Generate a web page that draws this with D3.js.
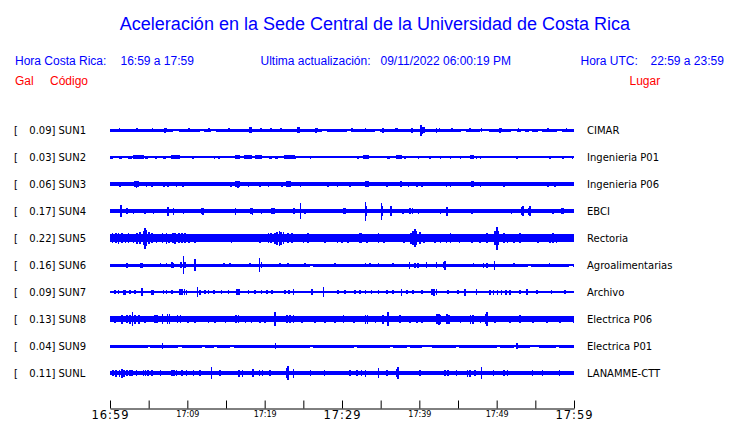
<!DOCTYPE html>
<html>
<head>
<meta charset="utf-8">
<script src="https://cdn.jsdelivr.net/npm/d3@7"></script>
<style>
  html, body { margin: 0; padding: 0; background: #fff; }
  svg { display: block; }
</style>
</head>
<body>
<div id="chart"></div>
<script>
// ---------------- DATA ----------------
const title = "Aceleración en la Sede Central de la Universidad de Costa Rica";
const horaCR = "16:59 a 17:59";
const horaUTC = "22:59 a 23:59";
const actualizacion = "09/11/2022 06:00:19 PM";

const codes = ["SUN1","SUN2","SUN3","SUN4","SUN5","SUN6","SUN7","SUN8","SUN9","SUNL"];
const peaks = ["0.09","0.03","0.06","0.17","0.22","0.16","0.09","0.13","0.04","0.11"];
const places = ["CIMAR","Ingenieria P01","Ingenieria P06","EBCI","Rectoria","Agroalimentarias","Archivo","Electrica P06","Electrica P01","LANAMME-CTT"];

// background noise amplitude of each trace (same units as the events)
const baseAmp = [1.5, 0.6, 1.7, 1.7, 3.9, 1.5, 1.4, 2.8, 1.5, 1.7];

// quiet stretches [startMinute, endMinute] where the trace falls to a thin line
const quietSUN1 = [[8.2,8.9],[11.6,12.2],[13.1,13.7],[27.4,28.1],[30.6,31.2],[34.3,34.9],[45.4,46.0],[47.8,49.0],[51.9,52.6],[53.2,53.6],[54.2,54.6],[55.4,55.8],[57.8,58.4]];
const quietSUN6 = [[25.9,26.3],[54.1,54.5],[59.4,59.9]];
const quietSUN9 = [[4.9,5.2],[8.8,9.3],[11.9,12.3],[13.4,13.8],[15.5,16.0],[25.8,26.2],[31.6,31.9],[36.2,36.6],[38.4,38.8],[40.3,41.6],[44.8,45.1],[50.0,50.4],[52.2,52.6],[54.3,55.5],[57.7,58.0]];

// events: [minute after 16:59, peak amplitude, optional duration in minutes]
const evSUN1 = [[1.2,2.2],[3.5,2],[5.5,2.2],[7.1,2.5],[7.3,2.2],[10.2,2],[12.8,2],[15.4,2.2],[18.0,3.3],[18.2,2.8],[19.5,2],[20.8,2.2],[22.1,2],[24.3,3.3],[24.5,2.6],[26.6,2.5],[26.8,2.2],[31.3,2],[33.0,2],[35.3,2.5],[36.9,2.2],[37.1,2.2],[39.0,2.5],[40.2,5.5],[40.4,3.5],[40.6,2.8],[42.2,2.5],[42.6,2.2],[44.2,2],[46.5,2],[48.0,2],[50.4,2.5],[50.6,2.2],[52.8,2],[56.6,2],[59.0,2]];
const evSUN2 = [[0.1,1.5,0.4],[1.3,1.5,0.4],[2.4,1.5,0.5],[3.0,1.6,1.5],[4.6,1.5,0.4],[5.9,1.5,0.3],[7.0,1.5,0.3],[8.0,1.6,1.2],[10.7,1.5,0.3],[13.5,1.5,0.2],[14.1,1.5,0.2],[16.3,1.7,0.6],[17.4,1.6,1.0],[18.9,1.6,0.8],[20.6,1.5,0.5],[21.4,1.5,0.4],[22.6,1.6,1.4],[23.9,1.5,0.2],[25.9,1.5,0.2],[32.0,1.5,0.3],[32.8,2.0,0.8],[35.9,1.5,0.2],[36.1,1.5,0.2],[37.1,2.0,0.8],[38.1,1.5,0.2],[39.9,1.5,0.2],[41.4,1.5,0.2],[42.7,1.5,0.2],[44.0,1.5,0.2],[45.3,1.5,0.2],[46.6,2.0,0.6],[47.4,1.5,0.2],[47.9,1.5,0.2],[52.6,1.5,0.2],[56.9,1.5,0.2],[58.6,1.5,0.2],[59.8,1.5,0.2]];
const evSUN3 = [[1.3,2.5],[3.2,3],[3.4,3.5],[3.6,3],[4.7,2.5],[5.4,2.5],[7.0,2.5],[7.5,2.5],[8.6,2.5],[9.4,2.5],[15.6,2.5],[16.3,3],[16.5,3.5],[16.7,3],[17.9,2.5],[19.4,2.5],[20.5,2.5],[22.2,2.5],[22.9,2.8],[23.1,2.8],[23.3,2.6],[24.6,2.5],[28.2,2.5],[29.4,2.5],[31.0,2.5],[33.0,3.2],[33.2,3.3],[33.4,3],[35.8,2.5],[37.6,3],[37.7,3],[38.6,2.5],[39.7,2.5],[40.3,2.5],[43.5,2.5],[44.0,2.5],[46.8,3],[47.0,3],[47.9,2.5],[50.9,2.5],[56.6,2.5],[57.5,2.5]];
const evSUN4 = [[1.42,5.8],[2.15,3],[3.0,2.5],[4.5,2.5],[5.6,2.5],[7.5,4.5],[8.2,3.5],[9.5,2.5],[11.8,3.2],[12.0,3.5],[16.2,3.5],[18.2,3.2],[18.4,3.5],[19.6,2.5],[20.9,3],[21.2,3],[23.8,3],[24.6,7.8],[25.2,2.5],[30.2,3],[30.4,2.8],[33.0,9.5],[33.1,5],[35.1,8.5],[35.2,5],[36.3,5],[37.9,2.5],[38.8,3],[39.1,3],[39.9,2.5],[42.7,2.5],[43.6,4.5],[46.8,2.5],[51.9,2.5],[53.3,4],[53.4,5],[54.2,3.5],[54.3,5],[57.3,2.5],[58.4,3],[58.6,3]];
const evSUN5 = [[0.3,5],[0.8,5],[1.1,5.5],[1.5,5],[2.0,4.5],[2.4,5],[3.0,4.5],[3.5,5.5],[3.9,6],[4.3,7],[4.5,10.5],[4.7,8],[5.0,6],[5.4,5],[6.0,4.5],[6.8,5],[7.3,5.5],[7.6,4.5],[8.1,5],[8.4,5.5],[8.9,5],[9.3,4.8],[9.7,5],[10.2,4.5],[11.0,4.5],[12.0,4.2],[13.2,4.2],[14.3,4.2],[15.7,4.5],[16.7,4.2],[17.7,4.2],[18.5,4.2],[19.4,4.5],[19.9,4.2],[20.5,5],[20.8,5],[21.3,5.5],[21.6,6.5],[21.9,7.5],[22.1,6.5],[22.4,6],[23.0,5],[23.5,4.8],[24.3,4.3],[25.0,4.5],[25.6,4.8],[26.3,4.3],[27.0,4.2],[27.8,4.5],[28.6,4.2],[29.4,4.5],[30.0,4.5],[30.8,4.5],[31.5,4.3],[32.3,5],[32.5,5],[33.2,4.5],[33.9,4.3],[34.7,5],[35.4,4.5],[36.3,4.2],[37.0,4.2],[38.0,4.5],[38.9,5.5],[39.2,7],[39.4,9],[39.6,7],[40.1,6],[40.6,4.5],[41.3,4.2],[42.0,4.5],[42.7,4.5],[43.5,4.5],[44.0,4.8],[44.5,4.3],[45.2,4.5],[46.0,4.2],[46.8,4.5],[47.8,4.5],[48.3,4.2],[48.7,4.8],[49.8,7],[50.0,11.5],[50.2,7],[50.9,5],[51.4,4.5],[52.2,4.5],[53.0,4.8],[53.6,4.3],[54.5,4.2],[55.3,4.5],[56.1,4.2],[56.9,4.5],[57.3,4.8],[57.7,4.5],[58.5,4.2],[59.3,4.2]];
const evSUN6 = [[2.15,2.5],[4.0,2.5],[4.2,2.5],[6.5,2.2],[7.3,2.2],[8.0,3],[8.2,2.5],[9.2,3],[9.5,9],[9.7,3],[11.0,6],[14.7,2.2],[15.5,2.2],[18.1,2.2],[19.3,7],[19.6,3],[22.0,2.2],[23.0,2.2],[25.2,2.2],[29.1,2.2],[33.0,2.2],[33.6,2.2],[34.7,2.2],[36.6,2.2],[38.7,3.5],[39.4,2.5],[39.8,2.5],[40.9,3],[42.2,3],[43.2,3],[43.3,4.5],[47.0,2.2],[48.3,2.5],[48.7,2.5],[49.7,4.5],[52.2,2.2],[56.8,2.2]];
const evSUN7 = [[0.65,2.3],[1.1,2.3],[1.8,2.5],[2.0,2.5],[2.6,2.3],[3.2,2.3],[4.1,4],[5.4,2.5],[5.6,2.5],[6.9,2.3],[7.3,2.3],[8.0,2.3],[9.0,2.8],[9.3,3],[9.6,2.8],[9.9,2.5],[11.3,5],[11.6,2.5],[12.3,2.3],[12.7,2.3],[13.4,2.3],[14.4,2.3],[15.3,2.3],[16.4,3],[16.7,3],[17.9,2.3],[18.7,2.3],[19.6,2.3],[20.3,2.3],[20.9,2.3],[22.6,2.3],[23.1,2.3],[23.7,3],[26.1,3],[27.6,5.3],[29.5,2.3],[30.4,2.3],[31.7,2.3],[32.3,2.3],[33.0,2.3],[33.8,2.3],[34.7,2.3],[35.8,2.3],[36.6,2.3],[37.7,3.5],[38.4,2.3],[39.2,2.3],[40.3,2.3],[41.6,3.2],[41.9,3.5],[42.2,3.2],[43.7,2.3],[45.0,2.3],[45.9,3.5],[47.4,3],[49.1,2.5],[49.6,2.5],[50.1,2.5],[50.6,2.5],[51.2,2.5],[51.7,2.5],[53.0,2.3],[53.9,3],[55.2,2.3],[57.1,2.3],[58.8,2.3]];
const evSUN8 = [[0.65,3.5],[1.5,4.5],[2.2,4.2],[2.6,4.5],[2.9,7],[3.2,4.5],[3.7,4.5],[4.5,3.5],[5.8,4],[6.1,4],[6.8,5],[7.4,5],[7.7,5],[8.7,4],[9.1,4],[10.1,3.5],[11.0,3.5],[12.7,3.5],[13.6,3.5],[14.9,3.5],[16.3,4],[16.6,4],[17.5,3.5],[18.3,3.5],[19.4,3.5],[20.0,3.5],[21.3,7],[22.9,3.8],[23.3,3.8],[23.7,3.8],[24.8,3.5],[26.5,3.5],[27.8,3.5],[29.1,3.5],[30.2,4],[31.5,3.5],[33.0,4.5],[33.3,4.5],[34.3,3.5],[35.3,4.5],[35.9,7],[37.5,4],[38.8,3.5],[39.7,3.5],[40.3,3.5],[42.3,5],[42.5,5.5],[42.7,4.5],[43.6,5],[43.8,4.5],[45.3,3.5],[46.6,4.5],[46.9,4.5],[47.9,3.5],[48.6,5],[48.7,7],[49.8,3.5],[51.7,3.5],[53.0,4],[54.7,3.5],[56.5,3.5],[58.2,3.5],[59.9,3.5]];
const evSUN9 = [[6.8,2.7],[21.4,2.7],[52.6,2.7]];
const evSUNL = [[0.4,3],[0.8,3.5],[1.2,3.5],[1.5,4.5],[1.8,3.5],[2.2,3],[2.6,3],[2.8,3],[3.4,3],[4.3,3],[4.6,3],[4.9,3],[5.4,2.8],[6.5,2.8],[8.0,3],[8.3,3],[8.6,3],[9.3,3],[9.9,2.6],[10.8,2.6],[11.6,2.6],[13.1,5.7],[14.2,2.6],[16.7,3.5],[17.1,3.5],[18.5,4],[19.3,3],[19.7,3],[20.7,2.8],[22.9,5],[23.0,6.7],[23.7,4.5],[25.9,2.6],[27.7,2.6],[31.0,2.6],[31.9,2.6],[32.5,2.8],[33.0,3.5],[34.7,5],[35.8,2.6],[37.1,4],[37.2,6],[40.1,2.6],[43.3,2.6],[43.7,2.6],[44.8,2.6],[46.2,3.5],[46.5,3.5],[47.2,2.8],[48.0,6],[49.6,2.6],[50.9,2.6],[51.4,2.6],[54.6,2.6],[55.9,2.6],[58.1,2.6]];

const events = [evSUN1, evSUN2, evSUN3, evSUN4, evSUN5, evSUN6, evSUN7, evSUN8, evSUN9, evSUNL];
const quiet  = [quietSUN1, [[0,60]], [], [], [], quietSUN6, [], [], quietSUN9, []];

const tickMinutes = d3.range(0, 61, 5);
const bigLabelMinutes = [0, 30, 60];

// ---------------- DRAWING ----------------
const W = 740, H = 423;
const BLUE = "#0000ff", RED = "#ff0000";
const t0 = new Date(2022, 10, 9, 16, 59);
const t1 = d3.timeMinute.offset(t0, 60);
const atMin = m => new Date(t0.getTime() + m * 60000);

const svg = d3.select("#chart").append("svg").attr("width", W).attr("height", H);

const x = d3.scaleTime().domain([t0, t1]).range([110, 574]);
const y = d3.scalePoint().domain(codes).range([130, 373]);
const a = d3.scaleLinear().domain([0, 10]).range([0, 10]);

// Title and header
svg.append("text").attr("x", 375).attr("y", 30).attr("text-anchor", "middle")
  .attr("font-family", "Liberation Sans, Arial, sans-serif").attr("font-size", 18)
  .attr("fill", BLUE).text(title);

const hdr = (txt, xx, yy, col, anchor) => svg.append("text").attr("x", xx).attr("y", yy)
  .attr("text-anchor", anchor || "start")
  .attr("font-family", "Liberation Sans, Arial, sans-serif").attr("font-size", 12)
  .attr("fill", col).text(txt);
hdr("Hora Costa Rica:", 15, 65, BLUE);
hdr(horaCR, 120.5, 65, BLUE);
hdr("Ultima actualización:", 260.5, 65, BLUE);
hdr(actualizacion, 380.5, 65, BLUE);
hdr("Hora UTC:", 580.5, 65, BLUE);
hdr(horaUTC, 650.5, 65, BLUE);
hdr("Gal", 15, 84.5, RED);
hdr("Código", 50, 84.5, RED);
hdr("Lugar", 629.5, 84.5, RED);

// Traces
const traces = svg.append("g").attr("shape-rendering", "crispEdges").attr("fill", BLUE);
codes.forEach((code, i) => {
  const cy = y(code);
  const g = traces.append("g");
  // thin line across the whole window
  g.append("rect").attr("x", x(t0)).attr("width", x(t1) - x(t0))
    .attr("y", cy - 0.6).attr("height", 1.2);
  // background noise band, interrupted by the quiet stretches
  const q = quiet[i].slice().sort((p, r) => p[0] - r[0]);
  let segs = [], s = 0;
  q.forEach(([qa, qb]) => { if (qa > s) segs.push([s, qa]); s = Math.max(s, qb); });
  if (s < 60) segs.push([s, 60]);
  g.selectAll("rect.band").data(segs).join("rect").attr("class", "band")
    .attr("x", d => x(atMin(d[0]))).attr("width", d => x(atMin(d[1])) - x(atMin(d[0])))
    .attr("y", cy - a(baseAmp[i])).attr("height", 2 * a(baseAmp[i]));
  // events
  g.selectAll("rect.ev").data(events[i]).join("rect").attr("class", "ev")
    .attr("x", d => x(atMin(d[0])) - 0.7)
    .attr("width", d => Math.max(1.6, x(atMin(d[0] + (d[2] || 0))) - x(atMin(d[0]))))
    .attr("y", d => cy - a(d[1])).attr("height", d => 2 * a(d[1]));

  // labels
  const lab = (txt, xx, anchor) => svg.append("text").attr("x", xx).attr("y", cy + 4)
    .attr("text-anchor", anchor).attr("font-family", "DejaVu Sans, sans-serif")
    .attr("font-size", 10).attr("fill", "#000").text(txt);
  lab("[", 14, "start");
  lab(peaks[i] + "]", 55.5, "end");
  lab(code, 58.5, "start");
  lab(places[i], 587, "start");
});

// Time axis
const axis = d3.axisBottom(x)
  .tickValues(tickMinutes.map(atMin))
  .tickSizeInner(-8).tickSizeOuter(0)
  .tickFormat((d, k) => tickMinutes[k] % 10 === 0 ? d3.timeFormat("%H:%M")(d) : "");
const ax = svg.append("g").attr("transform", "translate(0,408.5)").call(axis);
ax.select(".domain").attr("stroke", "#000");
ax.selectAll(".tick line").attr("stroke", "#000");
ax.selectAll(".tick text")
  .attr("fill", "#000").attr("font-family", "DejaVu Sans, sans-serif")
  .attr("y", 2.5)
  .attr("font-size", (d, k) => bigLabelMinutes.includes(tickMinutes[k]) ? 11.5 : 8)
  .attr("letter-spacing", (d, k) => bigLabelMinutes.includes(tickMinutes[k]) ? 1 : 0);
</script>
</body>
</html>
